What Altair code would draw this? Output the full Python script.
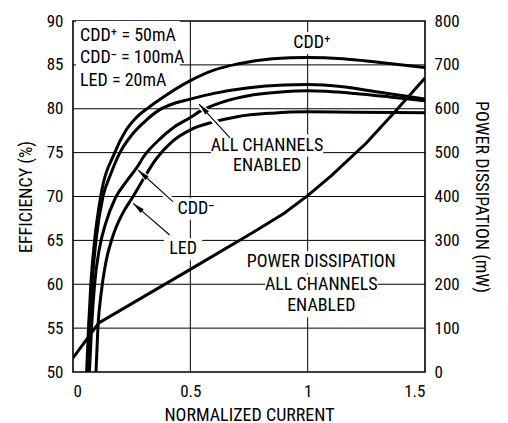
import math
import altair as alt
import pandas as pd

FONT = "Liberation Sans Narrow, Roboto Condensed, Arial Narrow, Liberation Sans, sans-serif"

# ---- efficiency curves (x = normalized current, y = efficiency %) ----
cddp_x = [0.058, 0.066, 0.076, 0.092, 0.118, 0.178, 0.22, 0.27, 0.32, 0.4, 0.5, 0.6, 0.7, 0.85, 1.0, 1.15, 1.3, 1.5]
cddp_y = [50, 55, 60, 65, 70, 75, 77.3, 79.0, 80.1, 81.6, 83.2, 84.4, 85.1, 85.7, 85.85, 85.7, 85.3, 84.7]

all_x = [0.062, 0.070, 0.081, 0.098, 0.128, 0.16, 0.2, 0.25, 0.3, 0.37, 0.43, 0.5, 0.6, 0.75, 0.9, 1.0, 1.15, 1.3, 1.5]
all_y = [50, 55, 60, 65, 70, 72.5, 75, 77.0, 78.4, 79.9, 80.6, 81.1, 81.75, 82.4, 82.7, 82.75, 82.5, 81.9, 81.1]

cddm_x = [0.070, 0.079, 0.092, 0.112, 0.14, 0.18, 0.23, 0.277, 0.30, 0.36, 0.43, 0.5, 0.54, 0.63, 0.77, 0.9, 1.0, 1.2, 1.35, 1.5]
cddm_y = [50, 55, 60, 64, 67, 69.8, 71.8, 73.5, 74.5, 76.3, 77.9, 79.0, 79.7, 80.7, 81.6, 81.95, 82.05, 81.75, 81.35, 80.9]

led_x = [0.098, 0.106, 0.12, 0.14, 0.17, 0.21, 0.256, 0.3, 0.355, 0.42, 0.5, 0.6, 0.7, 0.85, 1.0, 1.2, 1.5]
led_y = [50, 55, 59, 62.5, 65.5, 68, 70, 72, 74.3, 76.2, 77.6, 78.5, 79.1, 79.5, 79.65, 79.6, 79.55]

# ---- power dissipation (mW), all channels enabled ----
pd_x = [0.0, 0.11, 0.5, 0.77, 0.9, 1.0, 1.1, 1.25, 1.37, 1.5]
pd_mw = [32, 112, 234, 319, 362, 402, 447, 522, 592, 670]

# ---- grid values ----
grid_eff = [55, 60, 65, 70, 75, 80, 85]
grid_x = [0.5, 1.0]

# ---- annotations ----
box_lines = ["CDD\u207a = 50mA", "CDD\u207b = 100mA", "LED = 20mA"]
box_x = [0.03, 0.03, 0.03]
box_y = [88.3, 85.75, 83.2]

lab_text = ["CDD\u207a", "ALL CHANNELS", "ENABLED", "CDD\u207b", "LED",
            "POWER DISSIPATION", "ALL CHANNELS", "ENABLED"]
lab_x = [1.018, 0.827, 0.827, 0.524, 0.469, 1.058, 1.058, 1.058]
lab_y = [87.5, 75.8, 73.5, 68.6, 64.0, 62.5, 59.9, 57.5]

arr_x = [0.669, 0.426, 0.412]
arr_y = [76.67, 69.41, 65.61]
arr_x2 = [0.537, 0.277, 0.256]
arr_y2 = [80.54, 73.02, 69.22]

W, H = 352, 351
XMAX, YMIN, YMAX = 1.5, 50, 90
PX_X = W / XMAX            # pixels per x unit
PX_Y = H / (YMAX - YMIN)   # pixels per efficiency unit
TFS = 18                   # annotation font size
CW = 0.485 * TFS           # approx. character width


def twidth(t):
    return sum(CW * (0.5 if ch in " \u207a\u207b" else 1.0) for ch in t)


rows = []
for name, xs_, ys_ in [("CDD+", cddp_x, cddp_y), ("ALL", all_x, all_y),
                       ("CDD-", cddm_x, cddm_y), ("LED", led_x, led_y)]:
    for a, b in zip(xs_, ys_):
        rows.append({"series": name, "x": a, "eff": b})
curves = pd.DataFrame(rows)
power = pd.DataFrame({"x": pd_x, "power": pd_mw})
box = pd.DataFrame({"x": box_x, "eff": box_y, "t": box_lines})
labs = pd.DataFrame({"x": lab_x, "eff": lab_y, "t": lab_text})
hgrid = pd.DataFrame({"eff": grid_eff})
vgrid = pd.DataFrame({"x": grid_x})

# white knock-out boxes behind the annotation texts (derived from text positions)
ko = []
bw = max(twidth(t) for t in box_lines)
ko.append({"x": box_x[0] - 4 / PX_X, "x2": box_x[0] + (bw + 8) / PX_X,
           "eff": min(box_y) - 12 / PX_Y, "eff2": YMAX})
for t, a, b in zip(lab_text, lab_x, lab_y):
    w = twidth(t) + 12
    ko.append({"x": a - w / 2 / PX_X, "x2": a + w / 2 / PX_X,
               "eff": b - 11 / PX_Y, "eff2": b + 11 / PX_Y})
knock = pd.DataFrame(ko)

angles = []
for a, b, c, d in zip(arr_x, arr_y, arr_x2, arr_y2):
    dx = (c - a) * PX_X
    dy = -(d - b) * PX_Y
    angles.append(math.degrees(math.atan2(dx, -dy)) % 360)
arrows = pd.DataFrame({"x": arr_x, "eff": arr_y, "x2": arr_x2, "eff2": arr_y2, "ang": angles})


def xs():
    return alt.Scale(domain=[0, XMAX], nice=False, zero=False)


def ys():
    return alt.Scale(domain=[YMIN, YMAX], nice=False, zero=False)


XAXIS = alt.Axis(values=[0, 0.5, 1, 1.5], labelExpr="'' + datum.value",
                 title="NORMALIZED CURRENT", grid=False, ticks=False, domain=False,
                 labelPadding=11, titlePadding=7)
X = alt.X("x:Q", scale=xs(), axis=XAXIS)
X2h = alt.X("x2:Q", scale=xs(), axis=XAXIS)
Y = alt.Y("eff:Q", scale=ys(), axis=alt.Axis(
    values=list(range(50, 91, 5)), title="EFFICIENCY (%)", grid=False, ticks=False,
    domain=False, labelPadding=10, titlePadding=11))
Yn = alt.Y("eff:Q", scale=ys(), axis=None)

hgrid_layer = alt.Chart(hgrid).mark_rule(color="black", strokeWidth=1).encode(y=Yn)
vgrid_layer = alt.Chart(vgrid).mark_rule(color="black", strokeWidth=1).encode(x=X)

knock_layer = alt.Chart(knock).mark_rect(color="white", opacity=1).encode(
    x=X, x2="x2:Q", y=Yn, y2="eff2:Q")

curve_layer = alt.Chart(curves).mark_line(
    color="black", strokeWidth=3, interpolate="monotone", clip=True
).encode(x=X, y=Y, detail="series:N")

txt_kw = dict(font=FONT, fontSize=TFS, color="black", baseline="middle")
box_txt = alt.Chart(box).mark_text(align="left", **txt_kw).encode(x=X, y=Yn, text="t:N")
lab_txt = alt.Chart(labs).mark_text(align="center", **txt_kw).encode(x=X, y=Yn, text="t:N")

arrow_halo = alt.Chart(arrows).mark_rule(color="white", strokeWidth=6).encode(
    x=X, y=Yn, x2="x2:Q", y2="eff2:Q")
arrow_line = alt.Chart(arrows).mark_rule(color="black", strokeWidth=1.1).encode(
    x=X, y=Yn, x2="x2:Q", y2="eff2:Q")
arrow_head = alt.Chart(arrows).mark_point(
    shape="M0,0L-0.5,2.4L0.5,2.4Z", filled=True, color="black", opacity=1, size=100
).encode(x=X2h,
         y=alt.Y("eff2:Q", scale=ys(), axis=None),
         angle=alt.Angle("ang:Q", scale=None))

power_layer = alt.Chart(power).mark_line(
    color="black", strokeWidth=3, interpolate="linear", clip=True
).encode(
    x=X,
    y=alt.Y("power:Q", scale=alt.Scale(domain=[0, 800], nice=False, zero=False),
            axis=alt.Axis(orient="right", values=list(range(0, 801, 100)),
                          title="POWER DISSIPATION (mW)", grid=False, ticks=False,
                          domain=False, labelPadding=9, titlePadding=12)))

chart = alt.layer(
    hgrid_layer, vgrid_layer, knock_layer, curve_layer, power_layer,
    arrow_halo, arrow_line, arrow_head, box_txt, lab_txt
).resolve_scale(y="independent").properties(
    width=W, height=H,
    padding={"left": 65, "top": 13, "right": 75, "bottom": 51},
    autosize=alt.AutoSizeParams(type="none"),
    background="white",
).configure_view(
    stroke="black", strokeWidth=1.6
).configure_axis(
    labelFont=FONT, titleFont=FONT, labelFontSize=17, titleFontSize=18,
    labelColor="black", titleColor="black", titleFontWeight="normal",
)

chart.save("out.html", embed_options={"renderer": "svg", "actions": False})
